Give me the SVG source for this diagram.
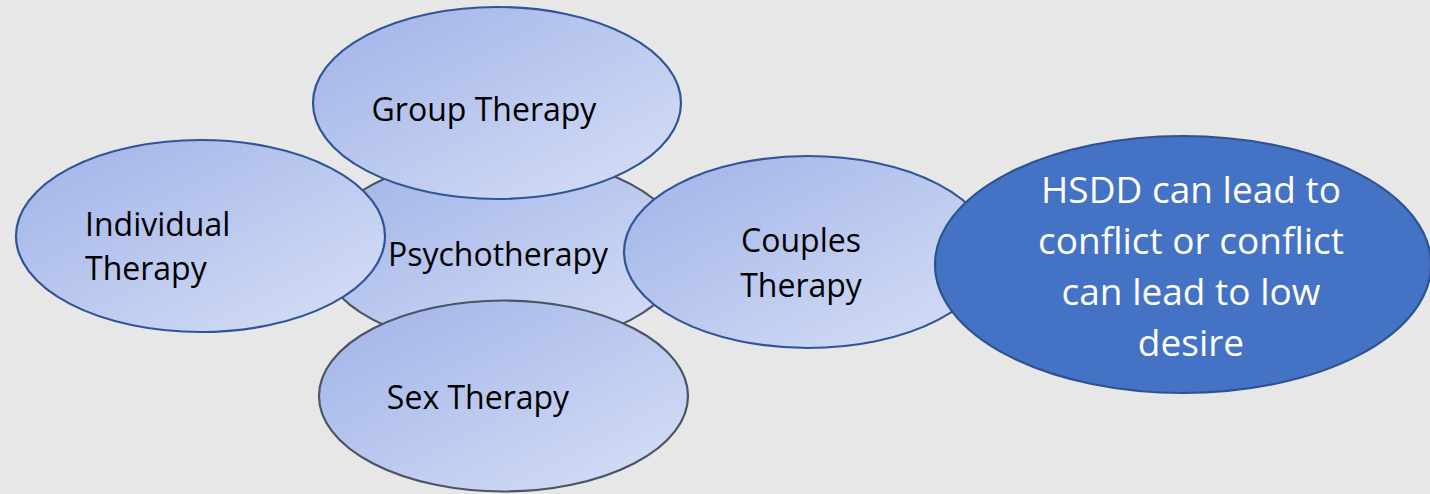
<svg xmlns="http://www.w3.org/2000/svg" width="1430" height="494" viewBox="0 0 1430 494">
<defs>
<linearGradient id="lg" x1="0" y1="0" x2="1" y2="1">
<stop offset="0" stop-color="#9FB2E8"/>
<stop offset="1" stop-color="#D8E0F6"/>
</linearGradient>
</defs>
<style>
.n{fill:url(#lg);stroke-width:2.2}
.b{stroke:#2F5597}
.g{stroke:#4A5563}
.t{font-family:"Open Sans","Liberation Sans",sans-serif;font-size:32px;fill:#000}
.w{font-family:"Open Sans","Liberation Sans",sans-serif;font-size:37px;fill:#fff;text-anchor:middle}
</style>
<rect width="1430" height="494" fill="#E7E7E7"/>
<g id="psychotherapy">
<ellipse class="n g" cx="502" cy="252" rx="182" ry="96"/>
<text class="t" x="498" y="266" text-anchor="middle">Psychotherapy</text>
</g>
<g id="group-therapy">
<ellipse class="n b" cx="497" cy="103" rx="184" ry="96"/>
<text class="t" x="484" y="121" text-anchor="middle">Group Therapy</text>
</g>
<g id="individual-therapy">
<ellipse class="n b" cx="200.5" cy="236" rx="184.5" ry="96"/>
<text class="t" x="85" y="236">Individual</text>
<text class="t" x="85" y="280">Therapy</text>
</g>
<g id="couples-therapy">
<ellipse class="n b" cx="808" cy="252" rx="184" ry="96"/>
<text class="t" x="801" y="251.5" text-anchor="middle">Couples</text>
<text class="t" x="801" y="296.5" text-anchor="middle">Therapy</text>
</g>
<g id="sex-therapy">
<ellipse class="n g" cx="503.5" cy="396" rx="184.5" ry="95.5"/>
<text class="t" x="478" y="409" text-anchor="middle">Sex Therapy</text>
</g>
<g id="hsdd">
<ellipse cx="1183" cy="264.5" rx="248" ry="128.5" fill="#4472C4" stroke="#2F528F" stroke-width="2.2"/>
<text class="w" x="1191" y="202.5">HSDD can lead to</text>
<text class="w" x="1191" y="254">conflict or conflict</text>
<text class="w" x="1191" y="305">can lead to low</text>
<text class="w" x="1191" y="356">desire</text>
</g>
<g id="connectors"/>
</svg>
